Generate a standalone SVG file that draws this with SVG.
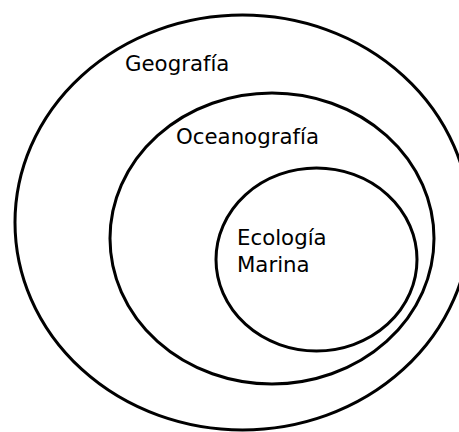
<svg xmlns="http://www.w3.org/2000/svg" width="459" height="432" viewBox="0 0 459 432">
<style>
ellipse{fill:none;stroke:#000;stroke-width:3}
text{font-family:"DejaVu Sans",sans-serif;font-size:21.3px;fill:#000}
</style>
<rect width="459" height="432" fill="#fff"/>
<g id="geografia">
<ellipse cx="242.5" cy="222.5" rx="227.5" ry="207.5"/>
<text x="125" y="71">Geografía</text>
</g>
<g id="oceanografia">
<ellipse cx="272" cy="238.5" rx="162" ry="145.5"/>
<text x="176" y="144">Oceanografía</text>
</g>
<g id="ecologia-marina">
<ellipse cx="316.5" cy="259.5" rx="100.5" ry="91.5"/>
<text x="237" y="245">Ecología</text>
<text x="237" y="272">Marina</text>
</g>
<g id="connectors"/>
</svg>
